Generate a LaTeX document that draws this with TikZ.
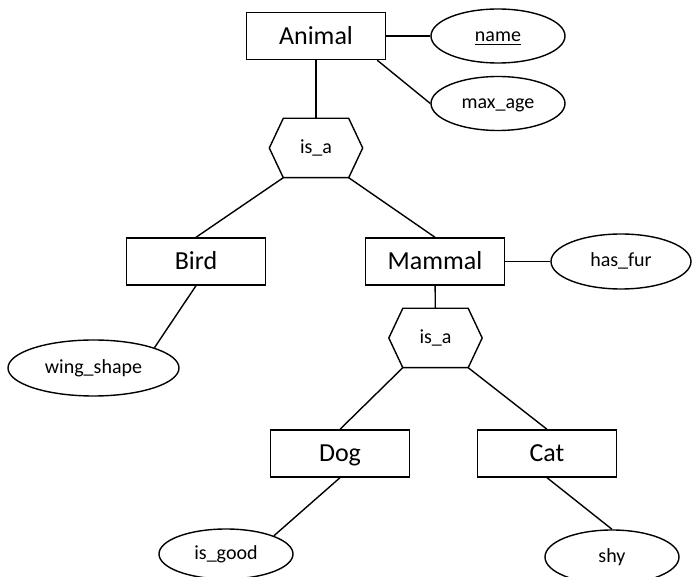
\documentclass[tikz,border=0pt]{standalone}
\usepackage{fontspec}
\setmainfont{Carlito}
\usetikzlibrary{shapes.geometric}

% hexagon round an is_a node
\newcommand{\isahex}[1]{\draw ([xshift=7pt]#1.north west) -- ([xshift=-7pt]#1.north east) -- (#1.east) -- ([xshift=-7pt]#1.south east) -- ([xshift=7pt]#1.south west) -- (#1.west) -- cycle;}

\begin{document}
\begin{tikzpicture}[x=0.5pt,y=-0.5pt,line width=0.7pt,
		entity/.style={draw,rectangle,minimum width=69.5pt,minimum height=23.5pt,inner sep=0pt,text height=8.4pt,text depth=0pt,font=\fontsize{13}{15}\selectfont},
		attr/.style={draw,ellipse,minimum width=67pt,minimum height=27pt,inner sep=0pt,text height=5.5pt,text depth=0pt,font=\fontsize{10}{12}\selectfont},
		isa/.style={minimum width=46pt,minimum height=29pt,inner sep=0pt,text height=5.5pt,text depth=0pt,font=\fontsize{10}{12}\selectfont}]
		\useasboundingbox (0,0) rectangle (693,577);
		% top level
		\node[entity] (animal) at (316,36) {Animal};
		\node[attr] (name) at (498,36) {\underline{name}};
		\node[attr] (maxage) at (498,103.5) {max\_age};
		\node[isa] (isa1) at (316,148) {is\_a};
		\isahex{isa1}
		\draw (animal) -- (name);
		\draw ([xshift=-4.5pt]animal.south east) -- (maxage.west);
		\draw (animal) -- (isa1);
		% second level
		\node[entity] (bird) at (196,261.5) {Bird};
		\node[entity] (mammal) at (435,261.5) {Mammal};
		\node[attr,minimum width=70pt,minimum height=27.5pt] (hasfur) at (621,261.5) {has\_fur};
		\node[attr,minimum width=85.5pt,minimum height=28pt] (wing) at (93.5,368) {wing\_shape};
		\draw ([xshift=7pt]isa1.south west) -- (bird.north);
		\draw ([xshift=-7pt]isa1.south east) -- (mammal.north);
		\draw (mammal) -- (hasfur);
		\draw (bird.south) -- (wing.north east);
		\node[isa] (isa2) at (435.5,338) {is\_a};
		\isahex{isa2}
		\draw (mammal) -- (isa2);
		% third level
		\node[entity] (dog) at (340,453.5) {Dog};
		\node[entity] (cat) at (547,453.5) {Cat};
		\node[attr,minimum height=25pt] (isgood) at (226,554) {is\_good};
		\node[attr] (shy) at (612,557) {shy};
		\draw ([xshift=7pt]isa2.south west) -- (dog.north);
		\draw ([xshift=-7pt]isa2.south east) -- (cat.north);
		\draw (dog.south) -- (isgood.north east);
		\draw (cat.south) -- (shy.north);
\end{tikzpicture}
\end{document}
